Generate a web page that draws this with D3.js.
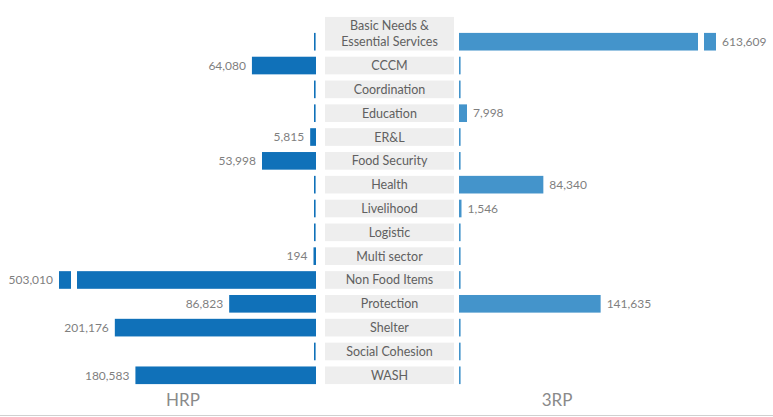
<!DOCTYPE html>
<html>
<head>
<meta charset="utf-8">
<script src="https://cdn.jsdelivr.net/npm/d3@7"></script>
<style>
  body { margin: 0; background: #fff; }
  svg { font-family: Lato, "Open Sans", sans-serif; }
</style>
</head>
<body>
<svg id="chart" width="773" height="417"></svg>
<script>
// sector data
const categories = [
    "Basic Needs & Essential Services", "CCCM", "Coordination", "Education", "ER&L",
    "Food Security", "Health", "Livelihood", "Logistic", "Multi sector",
    "Non Food Items", "Protection", "Shelter", "Social Cohesion", "WASH"
];
const hrpValues = [0, 64080, 0, 0, 5815, 53998, 0, 0, 0, 194, 503010, 86823, 201176, 0, 180583];
const rrpValues = [613609, 0, 0, 7998, 0, 0, 84340, 1546, 0, 0, 0, 141635, 0, 0, 0];
const panelTitles = ["HRP", "3RP"];

const LAYOUT = {
    leftZero: 316,
    rightZero: 459,
    boxX: 325,
    boxW: 129,
    maxBar: 239,      // bars longer than this get a break
    breakGap: 6,
    breakSeg: 12
};

const svg = d3.select("#chart");

const y = d3.scaleBand()
    .domain(categories)
    .range([29.8, 387.2])
    .paddingInner(0.26)
    .paddingOuter(0.13);

// px per unit, same for both sides
const x = d3.scaleLinear().domain([0, 200000]).range([0, 200]);

const fmt = d3.format(",");

const rows = categories.map((c, i) => ({ cat: c, hrp: hrpValues[i], rrp: rrpValues[i] }));

// category boxes
const boxes = svg.append("g").attr("class", "cat-boxes");
boxes.selectAll("rect")
    .data(rows)
    .join("rect")
    .attr("x", LAYOUT.boxX)
    .attr("y", (d, i) => y(d.cat) - (i === 0 ? 16 : 0))
    .attr("width", LAYOUT.boxW)
    .attr("height", (d, i) => y.bandwidth() + (i === 0 ? 16 : 0))
    .attr("fill", "#eeeeee");

boxes.selectAll("text")
    .data(rows)
    .join("text")
    .attr("x", LAYOUT.boxX + LAYOUT.boxW / 2)
    .attr("y", d => y(d.cat) + y.bandwidth() / 2 + 4.5)
    .attr("text-anchor", "middle")
    .attr("font-size", 12.5)
    .attr("fill", "#606060")
    .each(function(d, i) {
        const t = d3.select(this);
        if (i === 0) {
            t.append("tspan").attr("x", LAYOUT.boxX + LAYOUT.boxW / 2).attr("dy", -16).text("Basic Needs &");
            t.append("tspan").attr("x", LAYOUT.boxX + LAYOUT.boxW / 2).attr("dy", 16).text("Essential Services");
        } else {
            t.text(d.cat);
        }
    });

// draws one side; dir = -1 for left, +1 for right
function drawSide(key, zero, dir, color) {
    const g = svg.append("g").attr("class", "side-" + key);

    rows.forEach(d => {
        const v = d[key];
        const top = y(d.cat);
        const h = y.bandwidth();

        if (v === 0) {
            g.append("rect")
                .attr("x", zero - (dir < 0 ? 2 : 0))
                .attr("y", top)
                .attr("width", 1.6)
                .attr("height", h)
                .attr("fill", color);
            return;
        }

        let len = Math.max(x(v), 2.5);
        let end;
        if (len > LAYOUT.maxBar) {
            len = LAYOUT.maxBar;
            const segStart = zero + dir * (len + LAYOUT.breakGap);
            g.append("rect")
                .attr("x", dir < 0 ? segStart - LAYOUT.breakSeg : segStart)
                .attr("y", top)
                .attr("width", LAYOUT.breakSeg)
                .attr("height", h)
                .attr("fill", color);
            end = segStart + dir * LAYOUT.breakSeg;
        } else {
            end = zero + dir * len;
        }

        g.append("rect")
            .attr("x", dir < 0 ? zero - len : zero)
            .attr("y", top)
            .attr("width", len)
            .attr("height", h)
            .attr("fill", color);

        g.append("text")
            .attr("x", end + dir * 6)
            .attr("y", top + h / 2 + 4.3)
            .attr("text-anchor", dir < 0 ? "end" : "start")
            .attr("font-size", 12)
            .attr("fill", "#7f7f7f")
            .text(fmt(v));
    });
}

drawSide("hrp", LAYOUT.leftZero, -1, "#1071b9");
drawSide("rrp", LAYOUT.rightZero, 1, "#4494cb");

// panel titles
svg.selectAll("text.panel")
    .data(panelTitles)
    .join("text")
    .attr("class", "panel")
    .attr("x", (d, i) => i === 0 ? 183 : 557)
    .attr("y", 406)
    .attr("text-anchor", "middle")
    .attr("font-size", 17)
    .attr("fill", "#8a8a8a")
    .text(d => d);

svg.append("line")
    .attr("x1", 0).attr("x2", 773)
    .attr("y1", 415.5).attr("y2", 415.5)
    .attr("stroke", "#d0d0d0")
    .attr("stroke-width", 1);
</script>
</body>
</html>
